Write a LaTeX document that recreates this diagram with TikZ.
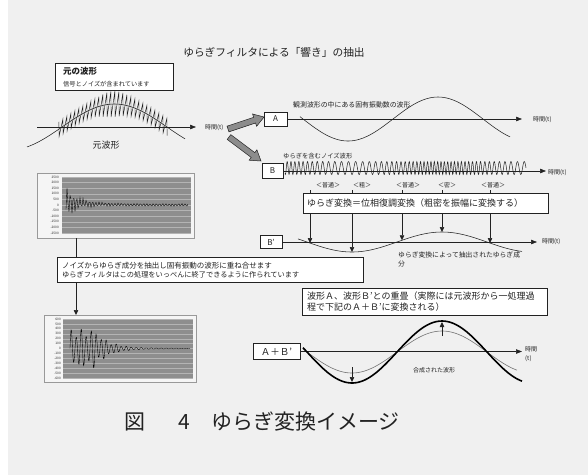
\documentclass[tikz,border=0pt]{standalone}
\usepackage{fontspec}
\setmainfont{Noto Sans CJK JP}
\usetikzlibrary{arrows.meta}
\newcommand\fsz[1]{\fontsize{#1}{#1}\selectfont}
\definecolor{bgc}{HTML}{F0F0F0}
\definecolor{ink}{HTML}{222222}
\definecolor{plotc}{HTML}{8E8E8E}
\definecolor{gridc}{HTML}{B4B4B4}
\begin{document}
\begin{tikzpicture}[x=1pt,y=-1pt,
  box/.style={draw=ink, fill=white, line width=0.6pt, inner sep=0pt, text=ink},
  lbl/.style={inner sep=0pt, text=ink},
  axisln/.style={draw=ink, line width=0.55pt, -{Triangle[length=6pt,width=4.5pt]}},
  vline/.style={draw=ink, line width=0.5pt, -{Triangle[length=5pt,width=4.5pt]}},
  wave/.style={draw=ink, line width=0.55pt},
  garrow/.style={draw=ink, fill=black!45, line width=0.5pt, line join=miter},
  chartbox/.style={draw=black!40, fill=white!96!black, line width=0.5pt, inner sep=0pt},
  ticklbl/.style={inner sep=0pt, text=ink, font=\fsz{3.2}, anchor=east},
]
\useasboundingbox (0,0) rectangle (588,475);
\fill[white] (0,0) rectangle (588,475);
\fill[bgc] (8,0) rectangle (588,475);

% title
\node[lbl,font=\fsz{10.7}] (title) at (274,52) {ゆらぎフィルタによる「響き」の抽出};

% original waveform box
\node[box, minimum width=118pt, minimum height=27pt] (obox) at (114,76.5) {};
\node[lbl, anchor=west, font=\fsz{8.5}\bfseries] (oboxt1) at (63,71) {元の波形};
\node[lbl, anchor=west, font=\fsz{6.2}] (oboxt2) at (63,84) {信号とノイズが含まれています};

% original waveform
\coordinate (ax0s) at (37,127);
\coordinate (ax0e) at (196,127);
\draw[axisln] (ax0s) -- (ax0e);
\node[lbl,anchor=west,font=\fsz{6}] (t0) at (205,127.5) {時間(t)};
\draw[wave] plot[domain=27:185, samples=80] (\x,{127-23*cos(1.7143*(\x-114.5))});
\draw[wave, line width=0.45pt] plot[samples at={58,60,...,168}] ({\x+0.9*cos(90*(\x-58))},{127-23*cos(1.7143*(\x-114.5)) - (8+5*exp(-((\x-113)/16)^2))*cos(90*(\x-58))});
\node[lbl,font=\fsz{9}] (owl) at (106,145) {元波形};

% gray block arrows
\begin{scope}[shift={(228,129)}, rotate=18.43]
  \draw[garrow] (0,-3) -- (28,-3) -- (28,-6.5) -- (38,0) -- (28,6.5) -- (28,3) -- (0,3) -- cycle;
\end{scope}
\begin{scope}[shift={(229,137)}, rotate=-36.87]
  \draw[garrow] (0,-3) -- (30,-3) -- (30,-6.5) -- (40,0) -- (30,6.5) -- (30,3) -- (0,3) -- cycle;
\end{scope}

% A
\node[box, minimum width=23pt, minimum height=14pt, font=\fsz{8}] (A) at (275.5,119) {A};
\coordinate (Ae) at (522,119);
\draw[axisln] (A.east) -- (Ae);
\node[lbl,anchor=west,font=\fsz{6}] (tA) at (533,120) {時間(t)};
\draw[wave] plot[domain=300:510,samples=100] (\x,{119+22*sin(2*(\x-303))});
\node[lbl,anchor=west,font=\fsz{6.9}] (Alab) at (293,105) {観測波形の中にある固有振動数の波形};

% B
\node[box, minimum width=21pt, minimum height=15pt, font=\fsz{8}] (B) at (272.5,171) {B};
\coordinate (Be) at (546,171);
\draw[axisln] (B.east) -- (Be);
\draw[wave, line width=0.5pt] plot[domain=285:526, samples=800] (\x,{168-6.5*sin(360*mod(0.22*(\x-285),1)-825*cos(2*(\x-397)))});
\node[lbl, anchor=west, font=\fsz{6.3}] (Blab) at (283,156) {ゆらぎを含むノイズ波形};
\node[lbl,anchor=west,font=\fsz{6}] (tB) at (548,173) {時間(t)};

\node[lbl,font=\fsz{6}] (n1) at (328,185) {＜普通＞};
\node[lbl,font=\fsz{6}] (n2) at (362,185) {＜粗＞};
\node[lbl,font=\fsz{6}] (n3) at (408,185) {＜普通＞};
\node[lbl,font=\fsz{6}] (n4) at (447,185) {＜密＞};
\node[lbl,font=\fsz{6}] (n5) at (493,185) {＜普通＞};

\coordinate (v1) at (310,190); \coordinate (e1) at (310,243);
\coordinate (v2) at (352,190); \coordinate (e2) at (352,252);
\coordinate (v3) at (402,190); \coordinate (e3) at (402,240.3);
\coordinate (v4) at (442,190); \coordinate (e4) at (442,232);
\coordinate (v5) at (490,190); \coordinate (e5) at (490,243);
\draw[vline] (v1) -- (e1);
\draw[vline] (v2) -- (e2);
\draw[vline] (v3) -- (e3);
\draw[vline] (v4) -- (e4);
\draw[vline] (v5) -- (e5);

\node[box, minimum width=245pt, minimum height=20pt] (fbox) at (425.5,203) {};
\node[lbl, anchor=west, font=\fsz{9}] (ftext) at (307,203) {ゆらぎ変換＝位相復調変換（粗密を振幅に変換する）};

% B'
\node[box, minimum width=22pt, minimum height=13pt, font=\fsz{8}] (Bp) at (271,242) {B’};
\coordinate (Bpe) at (537,242);
\draw[axisln] (Bp.east) -- (Bpe);
\node[lbl,anchor=west,font=\fsz{6}] (tBp) at (542,241.5) {時間(t)};
\draw[wave] plot[domain=298:522,samples=100] (\x,{242-10*sin(2*(\x-397))});
\node[lbl,anchor=west,font=\fsz{6.8}] (Bplab1) at (398,255) {ゆらぎ変換によって抽出されたゆらぎ成};
\node[lbl,anchor=west,font=\fsz{6.8}] (Bplab2) at (398,263.5) {分};

% chart 1
\node[chartbox, minimum width=157pt, minimum height=65pt] (c1) at (115.5,205.5) {};
\fill[plotc] (62,177) rectangle (191,233);
\foreach \i/\v in {0/2500,1/2000,2/1500,3/1000,4/500,5/0,6/-500,7/-1000,8/-1500,9/-2000,10/-2500}{
  \draw[gridc, line width=0.35pt] (62,177+\i*5.6) -- (191,177+\i*5.6);
  \node[ticklbl] (ta\i) at (59,177+\i*5.6) {\v};
}
\draw[black, line width=0.35pt] plot[samples at={66,67,...,188}] (\x,{205 - 3*exp(-(\x-66)/25) - (1.5+16*exp(-(\x-66)/12))*sin(113*(\x-60))*(0.55+0.45*abs(cos(47*(\x-60))))});

% chart 2
\node[chartbox, minimum width=152pt, minimum height=67pt] (c2) at (120,348.5) {};
\fill[plotc] (63,319) rectangle (193,378);
\foreach \i/\v in {0/600,1/500,2/400,3/300,4/200,5/100,6/0,7/-100,8/-200,9/-300,10/-400,11/-500,12/-600}{
  \draw[gridc, line width=0.35pt] (63,319+\i*4.917) -- (193,319+\i*4.917);
  \node[ticklbl] (tb\i) at (61,319+\i*4.917) {\v};
}
\draw[black, line width=0.35pt] plot[samples at={70,70.5,...,190}] (\x,{348.5 - (0.3+20*(0.78+0.22*cos(31*(\x-70)))*exp(-max(\x-95,0)/14))*sin(72*(\x-70))});

% connector between charts
\coordinate (lvs) at (76,238);
\coordinate (lve) at (76,315);
\draw[vline] (lvs) -- (lve);
\node[box, minimum width=306pt, minimum height=25pt] (nbox) at (210,269.5) {};
\node[lbl, anchor=west, font=\fsz{7.5}] (nt1) at (62,265.5) {ノイズからゆらぎ成分を抽出し固有振動の波形に重ね合せます};
\node[lbl, anchor=west, font=\fsz{7.2}] (nt2) at (62,274.5) {ゆらぎフィルタはこの処理をいっぺんに終了できるように作られています};

% superposition box
\node[box, minimum width=245pt, minimum height=27pt] (sbox) at (424.5,301.5) {};
\node[lbl, anchor=west, font=\fsz{9}] (st1) at (307,296.5) {波形Ａ、波形Ｂ’との重畳（実際には元波形から一処理過};
\node[lbl, anchor=west, font=\fsz{9}] (st2) at (307,307.5) {程で下記のＡ＋Ｂ’に変換される）};

% A+B'
\node[box, minimum width=47pt, minimum height=16pt, font=\fsz{9.5}] (ApB) at (276.5,351.5) {Ａ＋Ｂ’};
\coordinate (Se) at (522,351.5);
\draw[axisln] (ApB.east) -- (Se);
\draw[draw=black!55, line width=0.6pt] plot[domain=303:517, samples=100] (\x,{352+21*sin(2*(\x-307))});
\draw[black, line width=1.6pt] plot[domain=303:522,samples=100] (\x,{352+31*sin(2*(\x-307))});
\coordinate (m1s) at (352,367); \coordinate (m1e) at (352,382);
\coordinate (m2s) at (442,336); \coordinate (m2e) at (442,322);
\draw[vline] (m1s) -- (m1e);
\draw[vline] (m2s) -- (m2e);
\node[lbl,font=\fsz{6}] (comp) at (434,370) {合成された波形};
\node[lbl,anchor=west,font=\fsz{6}] (tS1) at (525,349.5) {時間};
\node[lbl,anchor=west,font=\fsz{6}] (tS2) at (525,358.5) {(t)};

% caption
\node[lbl,font=\fsz{21}] (cap1) at (135,422) {図};
\node[lbl,font=\fsz{21}] (cap2) at (184,422) {4};
\node[lbl,anchor=west,font=\fsz{21}] (cap3) at (211,422) {ゆらぎ変換イメージ};
\end{tikzpicture}
\end{document}
